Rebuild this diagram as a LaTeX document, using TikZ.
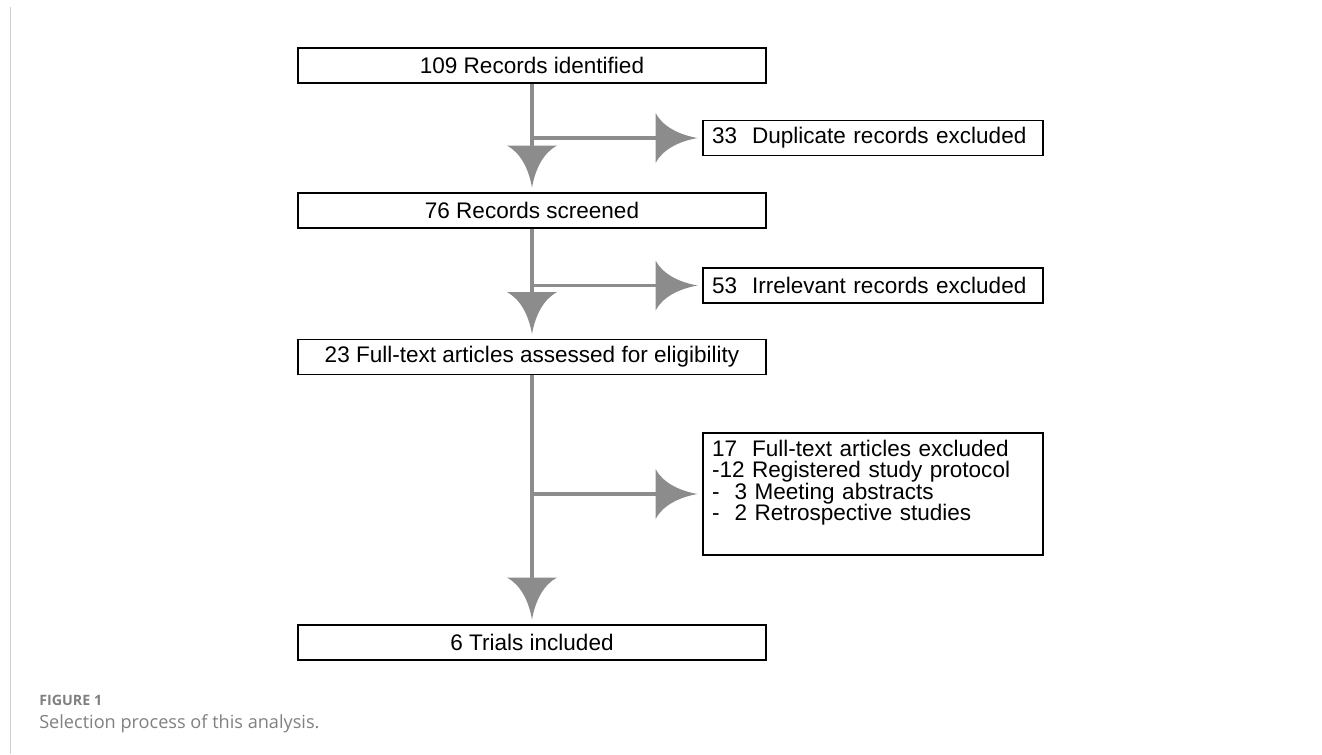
\documentclass[tikz,border=0pt]{standalone}
\usepackage{fontspec}
\setmainfont{Liberation Sans}
\newfontfamily\capfont{Open Sans}
\usepackage{xcolor}
\definecolor{flowgrey}{HTML}{8C8C8C}
\definecolor{capgrey}{HTML}{808080}
\definecolor{rulegrey}{HTML}{CFCFCF}
\newcommand{\mainW}{351pt}
\newcommand{\sideW}{241.5pt}
\newcommand{\boxH}{26.25pt}

% wide grey head with hollowed sides
\pgfdeclarearrow{
	name = Flow,
	setup code = {
		\pgfarrowssettipend{0pt}
		\pgfarrowssetlineend{-16pt}
		\pgfarrowssetbackend{-31.5pt}
		\pgfarrowssetvisualbackend{-31.5pt}
		\pgfarrowshullpoint{0pt}{0pt}
		\pgfarrowshullpoint{-31.5pt}{18.75pt}
		\pgfarrowshullpoint{-31.5pt}{-18.75pt}
	},
	drawing code = {
		\pgfpathmoveto{\pgfqpoint{0pt}{0pt}}
		\pgfpathcurveto{\pgfqpoint{-14pt}{2.5pt}}{\pgfqpoint{-26pt}{8.5pt}}{\pgfqpoint{-31.5pt}{18.75pt}}
		\pgfpathlineto{\pgfqpoint{-31.5pt}{-18.75pt}}
		\pgfpathcurveto{\pgfqpoint{-26pt}{-8.5pt}}{\pgfqpoint{-14pt}{-2.5pt}}{\pgfqpoint{0pt}{0pt}}
		\pgfpathclose
		\pgfusepathqfill
	}
}

\begin{document}
\begin{tikzpicture}[x=0.75pt, y=-0.75pt,
	mainbox/.style={draw, line width=1.2pt, minimum width=\mainW, minimum height=\boxH, inner sep=0pt, font=\fontsize{16.9}{16.1}\selectfont},
	sidebox/.style={draw, line width=1.2pt, text width=\sideW, align=left, inner xsep=6.75pt, inner ysep=0pt, minimum height=\boxH, font=\fontsize{16.9}{16.1}\selectfont},
	flow/.style={draw=flowgrey, line width=2.6pt, -Flow, shorten >=3.5pt}]
	\useasboundingbox (0,0) rectangle (1322,754);
	\draw[rulegrey, line width=0.75pt] (10,7) -- (10,754);

	% main column
	\node[mainbox] (ident) at (532,65.5) {109 Records identified};
	\node[mainbox] (screen) at (532,210.5) {76 Records screened};
	\node[mainbox] (assess) at (532,357) {23 Full-text articles assessed for eligibility};
	\node[mainbox] (incl) at (532,642.5) {6 Trials included};

	% exclusions
	\node[sidebox] (dupl) at (873,138) {33\ \ Duplicate records excluded};
	\node[sidebox] (irrel) at (873,285.5) {53\ \ Irrelevant records excluded};
	\node[sidebox, inner ysep=5.25pt, text depth=68.5pt] (fulltx) at (873,494) {17\ \ Full-text articles excluded\\
		-12 Registered study protocol\\
		-\ \ 3 Meeting abstracts\\
		-\ \ 2 Retrospective studies};

	\draw[flow] (ident) -- (screen);
	\draw[flow] (screen) -- (assess);
	\draw[flow] (assess) -- (incl);
	\draw[flow] (ident.south |- dupl.west) -- (dupl);
	\draw[flow] (screen.south |- irrel.west) -- (irrel);
	\draw[flow] (assess.south |- fulltx.west) -- (fulltx);

	% caption
	\node[anchor=base west, inner sep=0pt, text=capgrey, font=\capfont\bfseries\fontsize{10.7}{12}\selectfont] (figno) at (39,705) {FIGURE 1};
	\node[anchor=base west, inner sep=0pt, text=capgrey, font=\capfont\fontsize{13.6}{15}\selectfont] (figcap) at (39,728) {Selection process of this analysis.};
\end{tikzpicture}
\end{document}
